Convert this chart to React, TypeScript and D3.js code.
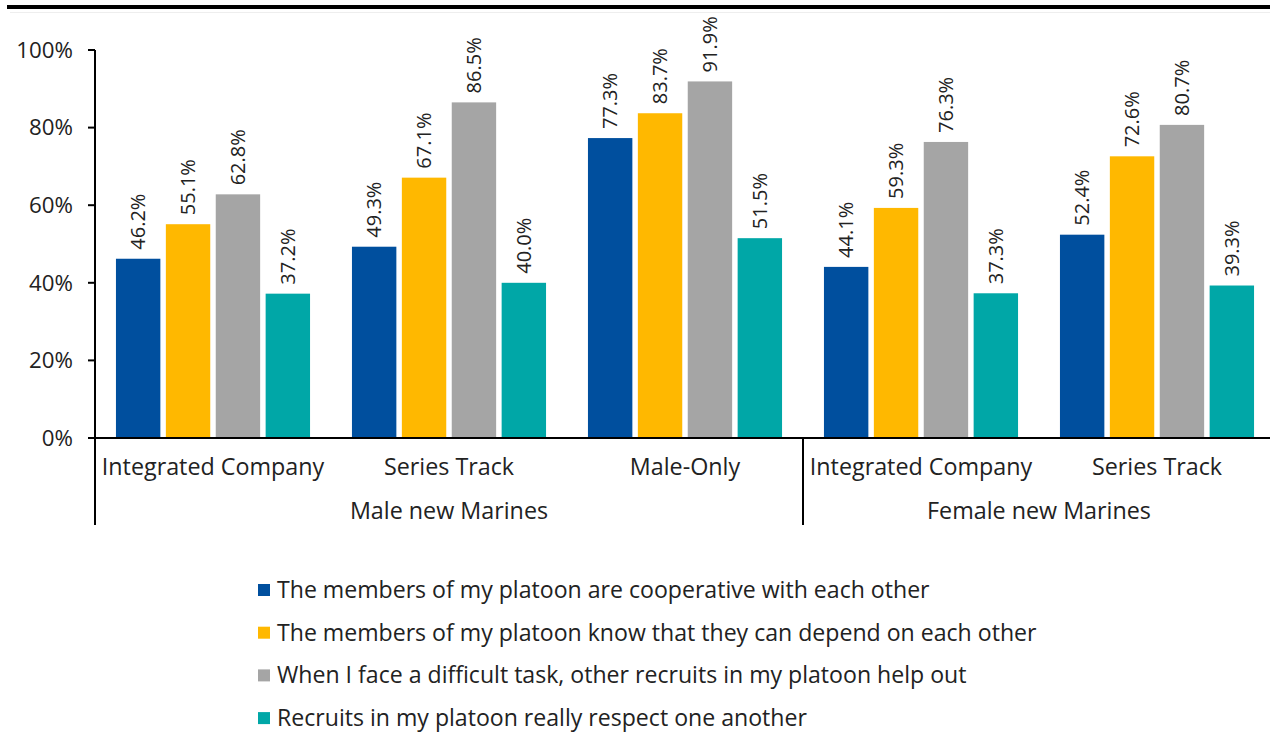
import * as d3 from "d3";
import { useEffect, useRef } from "react";

const groups = ["Male new Marines", "Female new Marines"];
const categories = ["Integrated Company", "Series Track", "Male-Only", "Integrated Company", "Series Track"];
const categoryGroup = [0, 0, 0, 1, 1];
const seriesNames = [
  "The members of my platoon are cooperative with each other",
  "The members of my platoon know that they can depend on each other",
  "When I face a difficult task, other recruits in my platoon help out",
  "Recruits in my platoon really respect one another",
];
const colors = ["#004f9e", "#ffb800", "#a5a5a5", "#00a7a7"];
const cooperative = [46.2, 49.3, 77.3, 44.1, 52.4];
const depend = [55.1, 67.1, 83.7, 59.3, 72.6];
const helpOut = [62.8, 86.5, 91.9, 76.3, 80.7];
const respect = [37.2, 40.0, 51.5, 37.3, 39.3];
const yTicks = [0, 20, 40, 60, 80, 100];

const FONT = "'Open Sans', sans-serif";
const TEXT = "#222";

export default function App() {
  const ref = useRef<SVGSVGElement>(null);

  useEffect(() => {
    const svg = d3.select(ref.current);
    svg.selectAll("*").remove();

    const values = [cooperative, depend, helpOut, respect];
    const left = 95;
    const top = 50;
    const bottom = 438;

    // one band per category, inner band per series
    const x0 = d3.scaleBand<number>().domain(d3.range(categories.length)).range([left, left + 236 * 5]);
    const x1 = d3.scaleBand<number>().domain(d3.range(4)).range([0, x0.bandwidth()]).paddingInner(0.11).paddingOuter(0.42);
    const y = d3.scaleLinear().domain([0, 100]).range([bottom, top]);

    // top rule
    svg.append("rect").attr("x", 7).attr("y", 5).attr("width", 1263).attr("height", 4).attr("fill", "#000");
    svg.append("line").attr("x1", 10).attr("x2", 1270).attr("y1", 12.5).attr("y2", 12.5).attr("stroke", "#eee");

    const g = svg.append("g");
    categories.forEach((c, ci) => {
      values.forEach((vals, si) => {
        const v = vals[ci];
        const bx = x0(ci)! + x1(si)!;
        g.append("rect")
          .attr("x", bx)
          .attr("y", y(v))
          .attr("width", x1.bandwidth())
          .attr("height", y(0) - y(v))
          .attr("fill", colors[si]);
        const cx = bx + x1.bandwidth() / 2;
        const ly = y(v) - 9;
        g.append("text")
          .attr("transform", `translate(${cx},${ly}) rotate(-90)`)
          .attr("dy", "0.35em")
          .attr("font-family", FONT)
          .attr("font-size", 20)
          .attr("fill", TEXT)
          .text(v.toFixed(1) + "%");
      });
    });

    // y axis
    const yAxis = svg.append("g");
    yAxis.append("line").attr("x1", left).attr("x2", left).attr("y1", top).attr("y2", 525).attr("stroke", "#000").attr("stroke-width", 2);
    yTicks.forEach((t) => {
      yAxis.append("line").attr("x1", left - 7).attr("x2", left).attr("y1", y(t)).attr("y2", y(t)).attr("stroke", "#000").attr("stroke-width", 2);
      yAxis.append("text")
        .attr("x", 73)
        .attr("y", y(t))
        .attr("dy", "0.35em")
        .attr("text-anchor", "end")
        .attr("font-family", FONT)
        .attr("font-size", 22.3)
        .attr("fill", TEXT)
        .text(t + "%");
    });

    // x axis
    svg.append("line").attr("x1", left - 7).attr("x2", 1270).attr("y1", bottom).attr("y2", bottom).attr("stroke", "#000").attr("stroke-width", 2);
    categories.forEach((c, ci) => {
      svg.append("text")
        .attr("x", x0(ci)! + x0.bandwidth() / 2)
        .attr("y", 467)
        .attr("dy", "0.35em")
        .attr("text-anchor", "middle")
        .attr("font-family", FONT)
        .attr("font-size", 23.3)
        .attr("fill", TEXT)
        .text(c);
    });
    groups.forEach((gName, gi) => {
      const idx = categoryGroup.map((d, i) => (d === gi ? i : -1)).filter((i) => i >= 0);
      const gx0 = x0(idx[0])!;
      const gx1 = x0(idx[idx.length - 1])! + x0.bandwidth();
      svg.append("text")
        .attr("x", (gx0 + gx1) / 2)
        .attr("y", 511)
        .attr("dy", "0.35em")
        .attr("text-anchor", "middle")
        .attr("font-family", FONT)
        .attr("font-size", 23.3)
        .attr("fill", TEXT)
        .text(gName);
      if (gi > 0) {
        svg.append("line").attr("x1", gx0).attr("x2", gx0).attr("y1", bottom).attr("y2", 525).attr("stroke", "#000").attr("stroke-width", 2);
      }
    });

    // legend
    const legend = svg.append("g");
    seriesNames.forEach((name, i) => {
      const ly = 590 + i * 42.7;
      legend.append("rect").attr("x", 258).attr("y", ly - 6).attr("width", 12).attr("height", 12).attr("fill", colors[i]);
      legend.append("text")
        .attr("x", 277)
        .attr("y", ly)
        .attr("dy", "0.35em")
        .attr("font-family", FONT)
        .attr("font-size", 23.1)
        .attr("fill", TEXT)
        .text(name);
    });
  }, []);

  return (
    <svg
      ref={ref}
      width={1270}
      height={751}
      style={{ position: "absolute", left: 0, top: 0, background: "#fff" }}
    />
  );
}
